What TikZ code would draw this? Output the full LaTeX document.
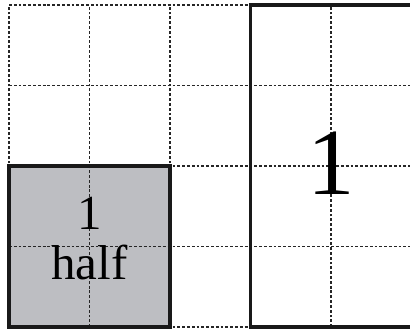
\documentclass[tikz,border=0pt]{standalone}
\usepackage{fontspec}
\setmainfont{Liberation Serif}
\definecolor{boxgray}{RGB}{189,190,194}
\begin{document}
\begin{tikzpicture}[
  gridline/.style={line width=0.4pt, dash pattern=on 1pt off 0.7pt, black!85},
  border/.style={line width=1.2pt, black!90},
  smalltext/.style={inner sep=0pt, align=center, font=\fontsize{17.3}{17.8}\selectfont},
  bigtext/.style={inner sep=0pt, font=\fontsize{33.5}{36}\selectfont}
]
\useasboundingbox (-0.112,-0.037) rectangle (4.981,4.062);
\begin{scope}
\clip (-0.112,-0.037) rectangle (4.981,4.062);
\fill[boxgray] (0,0) rectangle (2,2);
\foreach \x in {0,1,2,3,4} \draw[gridline] (\x,0) -- (\x,4);
\foreach \y in {0,1,2,3,4} \draw[gridline] (0,\y) -- (5.2,\y);
\draw[border] (0,0) rectangle (2,2);
\draw[border] (3,0) rectangle (5,4);
\end{scope}
\node[smalltext] (half) at (1,1.10) {1\\half};
\node[bigtext] (one) at (4,2.04) {1};
\end{tikzpicture}
\end{document}
